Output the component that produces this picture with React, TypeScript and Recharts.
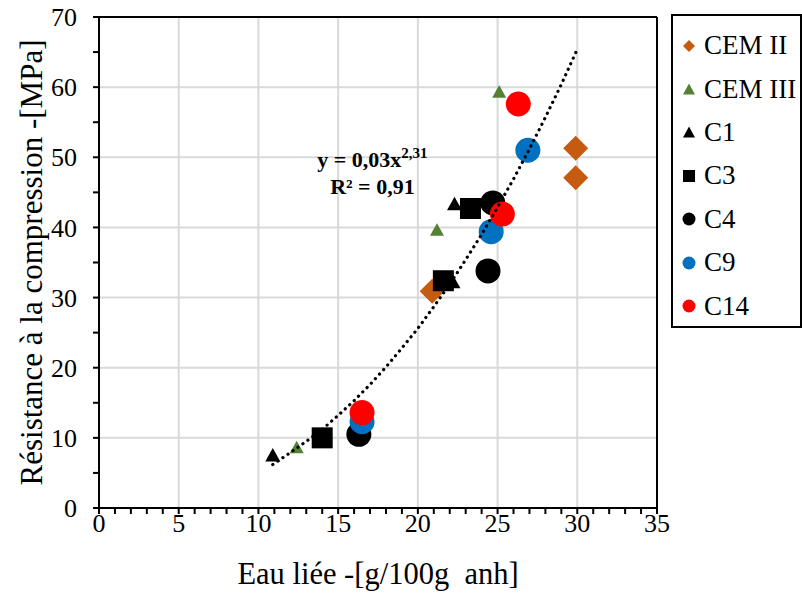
import React from "react";
import {
  Legend,
  ReferenceDot,
  ReferenceLine,
  Scatter,
  ScatterChart,
  XAxis,
  YAxis,
} from "recharts";

type Pt = { x: number; y: number };

// values
const cemII: Pt[] = [
  { x: 29.9, y: 51.3 },
  { x: 29.9, y: 47.1 },
  { x: 20.9, y: 30.9 },
];
const cemIII: Pt[] = [
  { x: 25.1, y: 59.4 },
  { x: 21.2, y: 39.7 },
  { x: 12.4, y: 8.7 },
];
const c1: Pt[] = [
  { x: 10.9, y: 7.6 },
  { x: 22.2, y: 32.3 },
  { x: 22.3, y: 43.4 },
];
const c3: Pt[] = [
  { x: 14.0, y: 10.0 },
  { x: 21.6, y: 32.4 },
  { x: 23.3, y: 42.7 },
];
const c4: Pt[] = [
  { x: 16.3, y: 10.5 },
  { x: 24.4, y: 33.8 },
  { x: 24.7, y: 43.5 },
];
const c9: Pt[] = [
  { x: 16.5, y: 12.3 },
  { x: 24.6, y: 39.4 },
  { x: 26.9, y: 51.0 },
];
const c14: Pt[] = [
  { x: 16.5, y: 13.6 },
  { x: 25.3, y: 41.9 },
  { x: 26.3, y: 57.6 },
];

// dotted trend curve
const trendX = [10.9, 12, 13, 14, 15, 16, 17, 18, 19, 20, 21, 22, 23, 24, 25, 26, 27, 28, 29, 30];
const trendY = [6.2, 7.9, 9.5, 11.2, 13.2, 15.3, 17.6, 20.1, 22.8, 25.6, 28.7, 31.9, 35.4, 39.0, 42.9, 46.9, 51.2, 55.7, 60.4, 65.4];
const trend: Pt[] = trendX.map((x, i) => ({ x, y: trendY[i] }));

const xTicks = Array.from({ length: 36 }, (_, i) => i);
const yTicks = Array.from({ length: 15 }, (_, i) => i * 5);
const xGrid = [5, 10, 15, 20, 25, 30];
const yGrid = [10, 20, 30, 40, 50, 60];

const FONT = '"Liberation Serif", "DejaVu Serif", "Noto Serif", "Times New Roman", Times, serif';

type Kind = "diamond" | "triangle" | "square" | "circle";

const series: { name: string; data: Pt[]; kind: Kind; color: string; size: number }[] = [
  { name: "CEM II", data: cemII, kind: "diamond", color: "#C55A11", size: 25 },
  { name: "CEM III", data: cemIII, kind: "triangle", color: "#548235", size: 14 },
  { name: "C1", data: c1, kind: "triangle", color: "#000000", size: 15 },
  { name: "C3", data: c3, kind: "square", color: "#000000", size: 21 },
  { name: "C4", data: c4, kind: "circle", color: "#000000", size: 25 },
  { name: "C9", data: c9, kind: "circle", color: "#0070C0", size: 25 },
  { name: "C14", data: c14, kind: "circle", color: "#FF0000", size: 25 },
];

function Marker({ kind, color, size, cx, cy }: { kind: Kind; color: string; size: number; cx: number; cy: number }) {
  const h = size / 2;
  if (kind === "circle") return <circle cx={cx} cy={cy} r={h} fill={color} />;
  if (kind === "square") return <rect x={cx - h} y={cy - h} width={size} height={size} fill={color} />;
  if (kind === "diamond")
    return <polygon points={`${cx},${cy - h} ${cx + h},${cy} ${cx},${cy + h} ${cx - h},${cy}`} fill={color} />;
  const th = size * 0.9;
  return (
    <polygon
      points={`${cx},${cy - th / 2} ${cx + h},${cy + th / 2} ${cx - h},${cy + th / 2}`}
      fill={color}
    />
  );
}

function XTick(props: any) {
  const { x, y, payload } = props;
  if (payload.value % 5 !== 0) return <g />;
  return (
    <text x={x} y={y + 18} textAnchor="middle" fontSize={26} style={{ fontFamily: FONT }} fill="#000">
      {payload.value}
    </text>
  );
}

function YTick(props: any) {
  const { x, y, payload } = props;
  if (payload.value % 10 !== 0) return <g />;
  return (
    <text x={x} y={y} dy="0.35em" textAnchor="end" fontSize={26} style={{ fontFamily: FONT }} fill="#000">
      {payload.value}
    </text>
  );
}

function LegendBox() {
  return (
    <div
      style={{
        boxSizing: "border-box",
        width: 131,
        height: 314,
        border: "2px solid #000",
        background: "#fff",
        paddingTop: 8,
        fontFamily: FONT,
      }}
    >
      {series.map((s) => (
        <div key={s.name} style={{ height: 43.4, display: "flex", alignItems: "center" }}>
          <svg width={30} height={20} style={{ flex: "none" }}>
            <Marker kind={s.kind} color={s.color} size={s.kind === "circle" ? 13 : 12} cx={16} cy={10} />
          </svg>
          <span style={{ fontSize: 27, color: "#000", marginLeft: 1, whiteSpace: "nowrap" }}>{s.name}</span>
        </div>
      ))}
    </div>
  );
}

const labelPos = { x: 17.15, y: 48.6 };

export default function App() {
  return (
    <div style={{ position: "absolute", left: 0, top: 0, width: 802, height: 593, background: "#fff", fontFamily: FONT }}>
      <ScatterChart width={802} height={593} margin={{ top: 17, right: 145, bottom: 0, left: 0 }}>
        {xGrid.map((v) => (
          <ReferenceLine key={`gx${v}`} x={v} stroke="#d9d9d9" strokeWidth={2} />
        ))}
        {yGrid.map((v) => (
          <ReferenceLine key={`gy${v}`} y={v} stroke="#d9d9d9" strokeWidth={2} />
        ))}
        <ReferenceLine x={35} stroke="#000" strokeWidth={2} />
        <ReferenceLine y={70} stroke="#000" strokeWidth={2} />
        <XAxis
          type="number"
          dataKey="x"
          domain={[0, 35]}
          ticks={xTicks}
          interval={0}
          height={85}
          tick={<XTick />}
          tickSize={6}
          tickMargin={0}
          axisLine={{ stroke: "#000", strokeWidth: 2 }}
          tickLine={{ stroke: "#000", strokeWidth: 2 }}
          label={{
            value: "Eau liée -[g/100g\u00a0 anh]",
            position: "insideBottom",
            offset: 9,
            style: { fontSize: 30.5, fontFamily: FONT, fill: "#000" },
          }}
        />
        <YAxis
          type="number"
          dataKey="y"
          domain={[0, 70]}
          ticks={yTicks}
          interval={0}
          width={99}
          tick={<YTick />}
          tickSize={6}
          tickMargin={16}
          axisLine={{ stroke: "#000", strokeWidth: 2 }}
          tickLine={{ stroke: "#000", strokeWidth: 2 }}
          label={{
            value: "Résistance à la compression -[MPa]",
            angle: -90,
            position: "insideLeft",
            offset: 31,
            style: { fontSize: 31, fontFamily: FONT, fill: "#000", textAnchor: "middle" },
          }}
        />
        <Legend
          layout="horizontal"
          verticalAlign="middle"
          align="center"
          content={() => <LegendBox />}
          wrapperStyle={{ left: 671, top: 14, width: 131, height: 314 }}
        />
        {series.map((s) => (
          <Scatter
            key={s.name}
            name={s.name}
            data={s.data}
            fill={s.color}
            isAnimationActive={false}
            shape={(p: any) => <Marker kind={s.kind} color={s.color} size={s.size} cx={p.cx} cy={p.cy} />}
          />
        ))}
        <Scatter
          name="trend"
          data={trend}
          legendType="none"
          isAnimationActive={false}
          line={{ stroke: "#000", strokeWidth: 3.2, strokeDasharray: "0.1 6", strokeLinecap: "round" }}
          shape={() => <g />}
        />
        <ReferenceDot
          x={labelPos.x}
          y={labelPos.y}
          shape={(p: any) => (
            <text x={p.cx} y={p.cy} textAnchor="middle" style={{ fontFamily: FONT }} fontWeight="bold" fontSize={22} fill="#000">
              <tspan x={p.cx}>
                y = 0,03x<tspan dy={-9} fontSize={15}>2,31</tspan>
              </tspan>
              <tspan x={p.cx} y={p.cy + 27}>R² = 0,91</tspan>
            </text>
          )}
        />
      </ScatterChart>
    </div>
  );
}
